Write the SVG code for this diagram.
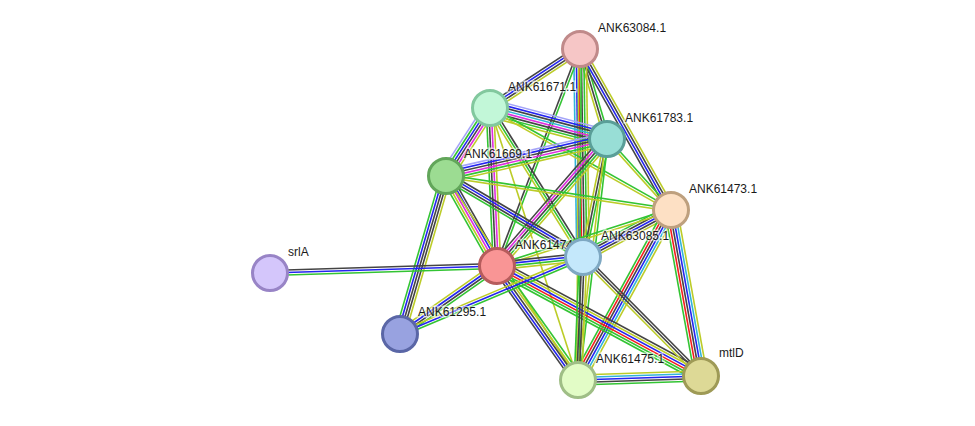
<svg xmlns="http://www.w3.org/2000/svg" width="975" height="426" viewBox="0 0 975 426">
<style>
line{stroke-width:1.6;fill:none}
.g{stroke:#33c433}.r{stroke:#f21e1e}.b{stroke:#2424f0}.k{stroke:#444}
.m{stroke:#e02ee0}.c{stroke:#32b4d8}.y{stroke:#bccc28}.l{stroke:#a4a4f8}
circle{stroke-width:3}
text{font-family:"Liberation Sans",Arial,sans-serif;font-size:12px;fill:#1a1a1a;stroke:#fff;stroke-width:3;stroke-opacity:0.55;paint-order:stroke}
</style>
<rect width="975" height="426" fill="#fff"/>
<g id="edges">
<!-- A-B -->
<g transform="translate(580 49) rotate(146.75)"><line x2="107.6" y1="-3.75" y2="-3.75" class="y"/><line x2="107.6" y1="-1.25" y2="-1.25" class="k"/><line x2="107.6" y1="1.25" y2="1.25" class="b"/><line x2="107.6" y1="3.75" y2="3.75" class="k"/></g>
<!-- A-C -->
<g transform="translate(580 49) rotate(73.3)"><line x2="94" y1="-2.5" y2="-2.5" class="g"/><line x2="94" class="k"/><line x2="94" y1="2.5" y2="2.5" class="y"/></g>
<!-- A-E -->
<g transform="translate(580 49) rotate(60.52)"><line x2="184.9" y1="-3.75" y2="-3.75" class="y"/><line x2="184.9" y1="-1.25" y2="-1.25" class="k"/><line x2="184.9" y1="1.25" y2="1.25" class="b"/><line x2="184.9" y1="3.75" y2="3.75" class="k"/></g>
<!-- A-H -->
<g transform="translate(580 49) rotate(89.17)"><line x2="208" y1="-6.25" y2="-6.25" class="y"/><line x2="208" y1="-3.75" y2="-3.75" class="g"/><line x2="208" y1="-1.25" y2="-1.25" class="k"/><line x2="208" y1="1.25" y2="1.25" class="r"/><line x2="208" y1="3.75" y2="3.75" class="b"/><line x2="208" y1="6.25" y2="6.25" class="c"/></g>
<!-- A-J -->
<g transform="translate(580 49) rotate(90.35)"><line x2="331" y1="-1.25" y2="-1.25" class="g"/><line x2="331" y1="1.25" y2="1.25" class="y"/></g>
<!-- A-G -->
<g transform="translate(580 49) rotate(110.93)"><line x2="232.3" y1="-1.25" y2="-1.25" class="g"/><line x2="232.3" y1="1.25" y2="1.25" class="k"/></g>
<!-- B-C -->
<g transform="translate(490 108) rotate(14.84)"><line x2="121" y1="-8.75" y2="-8.75" class="l"/><line x2="121" y1="-6.25" y2="-6.25" class="b"/><line x2="121" y1="-3.75" y2="-3.75" class="k"/><line x2="121" y1="-1.25" y2="-1.25" class="c"/><line x2="121" y1="1.25" y2="1.25" class="m"/><line x2="121" y1="3.75" y2="3.75" class="k"/><line x2="121" y1="6.25" y2="6.25" class="g"/><line x2="121" y1="8.75" y2="8.75" class="y"/></g>
<!-- B-D -->
<g transform="translate(490 108) rotate(122.9)"><line x2="81" y1="-6.25" y2="-6.25" class="y"/><line x2="81" y1="-3.75" y2="-3.75" class="m"/><line x2="81" y1="-1.25" y2="-1.25" class="k"/><line x2="81" y1="1.25" y2="1.25" class="b"/><line x2="81" y1="3.75" y2="3.75" class="g"/><line x2="81" y1="6.25" y2="6.25" class="l"/></g>
<!-- B-G -->
<g transform="translate(490 108) rotate(87.46)"><line x2="158.2" y1="-3.75" y2="-3.75" class="y"/><line x2="158.2" y1="-1.25" y2="-1.25" class="m"/><line x2="158.2" y1="1.25" y2="1.25" class="k"/><line x2="158.2" y1="3.75" y2="3.75" class="g"/></g>
<!-- B-H -->
<g transform="translate(490 108) rotate(58.03)"><line x2="175.6" y1="-2.5" y2="-2.5" class="k"/><line x2="175.6" class="g"/><line x2="175.6" y1="2.5" y2="2.5" class="y"/></g>
<!-- B-E -->
<g transform="translate(490 108) rotate(29.4)"><line x2="207.8" y1="-1.25" y2="-1.25" class="g"/><line x2="207.8" y1="1.25" y2="1.25" class="y"/></g>
<!-- B-J -->
<g transform="translate(490 108) rotate(72.07)"><line x2="285.9" class="y"/></g>
<!-- C-D -->
<g transform="translate(607 139) rotate(167.06)"><line x2="165.2" y1="-6.25" y2="-6.25" class="y"/><line x2="165.2" y1="-3.75" y2="-3.75" class="g"/><line x2="165.2" y1="-1.25" y2="-1.25" class="m"/><line x2="165.2" y1="1.25" y2="1.25" class="k"/><line x2="165.2" y1="3.75" y2="3.75" class="b"/><line x2="165.2" y1="6.25" y2="6.25" class="l"/></g>
<!-- C-G -->
<g transform="translate(607 139) rotate(130.9)"><line x2="168" y1="-5" y2="-5" class="y"/><line x2="168" y1="-2.5" y2="-2.5" class="g"/><line x2="168" class="k"/><line x2="168" y1="2.5" y2="2.5" class="m"/><line x2="168" y1="5" y2="5" class="k"/></g>
<!-- C-H -->
<g transform="translate(607 139) rotate(101.5)"><line x2="120.4" y1="-2.5" y2="-2.5" class="g"/><line x2="120.4" class="k"/><line x2="120.4" y1="2.5" y2="2.5" class="y"/></g>
<!-- C-E -->
<g transform="translate(607 139) rotate(47.97)"><line x2="95.6" y1="-1.25" y2="-1.25" class="g"/><line x2="95.6" y1="1.25" y2="1.25" class="y"/></g>
<!-- C-J -->
<g transform="translate(607 139) rotate(96.86)"><line x2="242.7" y1="-1.25" y2="-1.25" class="g"/><line x2="242.7" y1="1.25" y2="1.25" class="y"/></g>
<!-- D-G -->
<g transform="translate(446 176) rotate(60.46)"><line x2="103.4" y1="-5" y2="-5" class="k"/><line x2="103.4" y1="-2.5" y2="-2.5" class="b"/><line x2="103.4" class="m"/><line x2="103.4" y1="2.5" y2="2.5" class="y"/><line x2="103.4" y1="5" y2="5" class="g"/></g>
<!-- D-H -->
<g transform="translate(446 176) rotate(30.59)"><line x2="159.2" y1="-3.75" y2="-3.75" class="k"/><line x2="159.2" y1="-1.25" y2="-1.25" class="b"/><line x2="159.2" y1="1.25" y2="1.25" class="k"/><line x2="159.2" y1="3.75" y2="3.75" class="g"/></g>
<!-- D-E -->
<g transform="translate(446 176) rotate(8.59)"><line x2="227.6" y1="-1.25" y2="-1.25" class="g"/><line x2="227.6" y1="1.25" y2="1.25" class="y"/></g>
<!-- D-I -->
<g transform="translate(446 176) rotate(106.23)"><line x2="164.6" y1="-5" y2="-5" class="y"/><line x2="164.6" y1="-2.5" y2="-2.5" class="k"/><line x2="164.6" class="k"/><line x2="164.6" y1="2.5" y2="2.5" class="b"/><line x2="164.6" y1="5" y2="5" class="g"/></g>
<!-- D-J -->
<g transform="translate(446 176) rotate(57.09)"><line x2="243" class="y"/></g>
<!-- E-H -->
<g transform="translate(671 210) rotate(151.89)"><line x2="99.8" y1="-5" y2="-5" class="y"/><line x2="99.8" y1="-2.5" y2="-2.5" class="k"/><line x2="99.8" class="b"/><line x2="99.8" y1="2.5" y2="2.5" class="k"/><line x2="99.8" y1="5" y2="5" class="g"/></g>
<!-- E-G -->
<g transform="translate(671 210) rotate(162.16)"><line x2="182.8" y1="-1.25" y2="-1.25" class="y"/><line x2="182.8" y1="1.25" y2="1.25" class="g"/></g>
<!-- E-J -->
<g transform="translate(671 210) rotate(118.68)"><line x2="193.8" y1="-6.25" y2="-6.25" class="y"/><line x2="193.8" y1="-3.75" y2="-3.75" class="c"/><line x2="193.8" y1="-1.25" y2="-1.25" class="b"/><line x2="193.8" y1="1.25" y2="1.25" class="k"/><line x2="193.8" y1="3.75" y2="3.75" class="r"/><line x2="193.8" y1="6.25" y2="6.25" class="g"/></g>
<!-- E-K -->
<g transform="translate(671 210) rotate(79.76)"><line x2="168.7" y1="-6.25" y2="-6.25" class="y"/><line x2="168.7" y1="-3.75" y2="-3.75" class="c"/><line x2="168.7" y1="-1.25" y2="-1.25" class="b"/><line x2="168.7" y1="1.25" y2="1.25" class="k"/><line x2="168.7" y1="3.75" y2="3.75" class="r"/><line x2="168.7" y1="6.25" y2="6.25" class="g"/></g>
<!-- F-G -->
<g transform="translate(270 273) rotate(-1.77)"><line x2="227.1" y1="-2.5" y2="-2.5" class="k"/><line x2="227.1" class="b"/><line x2="227.1" y1="2.5" y2="2.5" class="g"/></g>
<!-- G-I -->
<g transform="translate(497 266) rotate(144.97)"><line x2="118.5" y1="-3.75" y2="-3.75" class="g"/><line x2="118.5" y1="-1.25" y2="-1.25" class="k"/><line x2="118.5" y1="1.25" y2="1.25" class="b"/><line x2="118.5" y1="3.75" y2="3.75" class="y"/></g>
<!-- G-H -->
<g transform="translate(497 266) rotate(-5.97)"><line x2="86.5" y1="-3.75" y2="-3.75" class="k"/><line x2="86.5" y1="-1.25" y2="-1.25" class="b"/><line x2="86.5" y1="1.25" y2="1.25" class="g"/><line x2="86.5" y1="3.75" y2="3.75" class="y"/></g>
<!-- G-J -->
<g transform="translate(497 266) rotate(54.61)"><line x2="139.8" y1="-5" y2="-5" class="g"/><line x2="139.8" y1="-2.5" y2="-2.5" class="y"/><line x2="139.8" class="k"/><line x2="139.8" y1="2.5" y2="2.5" class="b"/><line x2="139.8" y1="5" y2="5" class="k"/></g>
<!-- G-K -->
<g transform="translate(497 266) rotate(28.33)"><line x2="231.8" y1="-6.25" y2="-6.25" class="k"/><line x2="231.8" y1="-3.75" y2="-3.75" class="y"/><line x2="231.8" y1="-1.25" y2="-1.25" class="b"/><line x2="231.8" y1="1.25" y2="1.25" class="r"/><line x2="231.8" y1="3.75" y2="3.75" class="g"/><line x2="231.8" y1="6.25" y2="6.25" class="g"/></g>
<!-- H-J -->
<g transform="translate(583 257) rotate(92.33)"><line x2="123.1" y1="-3.75" y2="-3.75" class="y"/><line x2="123.1" y1="-1.25" y2="-1.25" class="k"/><line x2="123.1" y1="1.25" y2="1.25" class="k"/><line x2="123.1" y1="3.75" y2="3.75" class="g"/></g>
<!-- H-K -->
<g transform="translate(583 257) rotate(45.24)"><line x2="167.6" y1="-2.5" y2="-2.5" class="k"/><line x2="167.6" class="k"/><line x2="167.6" y1="2.5" y2="2.5" class="y"/></g>
<!-- H-I -->
<g transform="translate(583 257) rotate(157.18)"><line x2="198.5" y1="-2.5" y2="-2.5" class="g"/><line x2="198.5" class="b"/><line x2="198.5" y1="2.5" y2="2.5" class="y"/></g>
<!-- J-K -->
<g transform="translate(578 380) rotate(-1.86)"><line x2="123.1" y1="-5" y2="-5" class="y"/><line x2="123.1" y1="-2.5" y2="-2.5" class="c"/><line x2="123.1" class="b"/><line x2="123.1" y1="2.5" y2="2.5" class="k"/><line x2="123.1" y1="5" y2="5" class="g"/></g>
</g>
<g id="ANK63084.1"><circle cx="580" cy="49" r="17.5" fill="#f6c6c6" stroke="#c08a8a"/><text x="598" y="32">ANK63084.1</text></g>
<g id="ANK61671.1"><circle cx="490" cy="108" r="17.5" fill="#c2f7d8" stroke="#82c89e"/><text x="508" y="91">ANK61671.1</text></g>
<g id="ANK61783.1"><circle cx="607" cy="139" r="17.5" fill="#98ded6" stroke="#5a9e98"/><text x="625" y="122">ANK61783.1</text></g>
<g id="ANK61669.1"><circle cx="446" cy="176" r="17.5" fill="#9cdc92" stroke="#62a65a"/><text x="464" y="158">ANK61669.1</text></g>
<g id="ANK61473.1"><circle cx="671" cy="210" r="17.5" fill="#fde0c4" stroke="#bea07e"/><text x="689" y="193">ANK61473.1</text></g>
<g id="srlA"><circle cx="270" cy="273" r="17.5" fill="#d4c6fb" stroke="#9884c6"/><text x="288" y="256">srlA</text></g>
<g id="ANK61474.1"><circle cx="497" cy="266" r="17.5" fill="#f99595" stroke="#b65c5c"/><text x="515" y="249">ANK61474.1</text></g>
<g id="ANK63085.1"><circle cx="583" cy="257" r="17.5" fill="#c4e8fb" stroke="#7ea8c2"/><text x="601" y="240">ANK63085.1</text></g>
<g id="ANK61295.1"><circle cx="400" cy="334" r="17.5" fill="#98a2e0" stroke="#5a66a6"/><text x="418" y="316">ANK61295.1</text></g>
<g id="ANK61475.1"><circle cx="578" cy="380" r="17.5" fill="#e2fcc6" stroke="#9fbe86"/><text x="596" y="363">ANK61475.1</text></g>
<g id="mtlD"><circle cx="701" cy="376" r="17.5" fill="#ddd996" stroke="#9e9a56"/><text x="719" y="357">mtlD</text></g>
</svg>
